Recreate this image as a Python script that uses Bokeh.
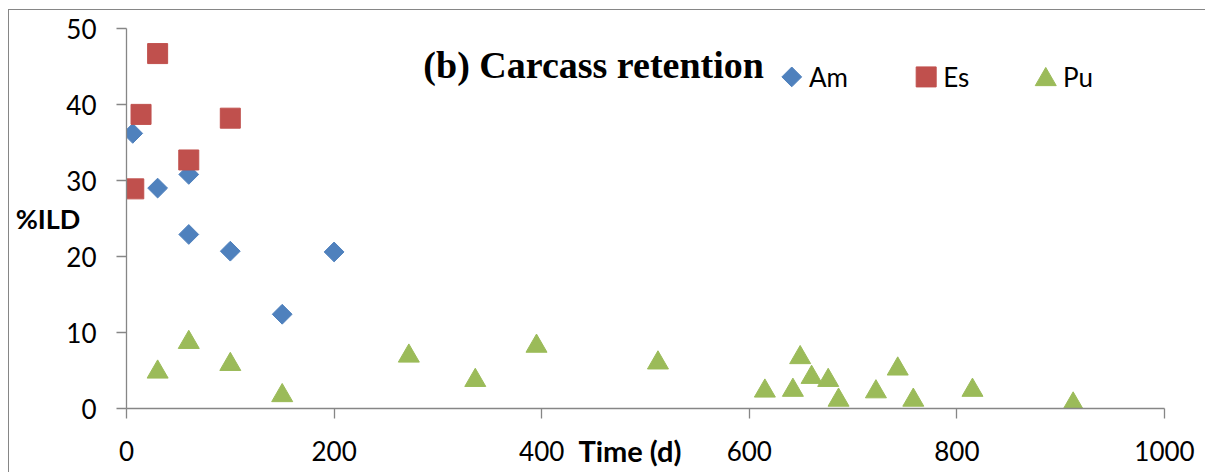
import math
from bokeh.plotting import figure
from bokeh.models import Range1d, FixedTicker, Label, LinearAxis
from bokeh.embed import file_html
from bokeh.resources import INLINE

# ---- data ----
am_x = [6, 30, 60, 60, 100, 150, 200]
am_y = [36.2, 29.0, 30.8, 22.9, 20.7, 12.4, 20.6]
es_x = [7, 14, 30, 60, 100]
es_y = [28.9, 38.7, 46.7, 32.7, 38.2]
pu_x = [30, 60, 100, 150, 272, 336, 395, 512, 615, 642, 649, 660, 676, 686, 722, 743, 758, 815, 912]
pu_y = [4.8, 8.7, 5.8, 1.7, 6.9, 3.7, 8.2, 6.0, 2.3, 2.4, 6.7, 4.1, 3.7, 1.1, 2.2, 5.2, 1.1, 2.4, 0.6]
x_ticks = [0, 200, 400, 600, 800, 1000]
y_ticks = [0, 10, 20, 30, 40, 50]
series_names = ["Am", "Es", "Pu"]
title_text = "(b) Carcass retention"
x_label = "Time (d)"
x_label_at = 485
y_label = "%ILD"

BLUE = "#4F81BD"
RED = "#C0504D"
GREEN = "#9BBB59"
GREY = "#868686"

p = figure(width=1197, height=463,
           x_range=Range1d(0, 1000), y_range=Range1d(0, 50),
           output_backend="svg", toolbar_location=None,
           min_border_left=117, min_border_right=42,
           min_border_top=18, min_border_bottom=65)
p.styles = {"margin-left": "8px", "margin-top": "9px",
            "border-left": "1px solid " + GREY, "border-top": "1px solid " + GREY}
p.outline_line_color = None
p.xgrid.visible = False
p.ygrid.visible = False
p.background_fill_color = "white"

# axes
p.xaxis.ticker = FixedTicker(ticks=x_ticks)
p.yaxis.ticker = FixedTicker(ticks=y_ticks)
for ax in (p.xaxis, p.yaxis):
    ax.axis_line_color = GREY
    ax.axis_line_width = 1.3
    ax.major_tick_line_color = GREY
    ax.major_tick_line_width = 1.3
    ax.major_tick_out = 10
    ax.major_tick_in = 0
    ax.minor_tick_line_color = None
    ax.major_label_text_font = "Lato"
    ax.major_label_text_font_size = "26px"
    ax.major_label_text_color = "black"
p.xaxis.major_label_standoff = 22
p.yaxis.major_label_standoff = 20

# y axis title, horizontal, to the left of the tick labels
p.yaxis.axis_label = y_label
p.yaxis.axis_label_orientation = "horizontal"
p.yaxis.axis_label_standoff = -17
p.yaxis.axis_label_text_font = "Lato"
p.yaxis.axis_label_text_font_style = "bold"
p.yaxis.axis_label_text_font_size = "27px"
p.yaxis.axis_label_text_color = "black"

# x axis title: the single label of an otherwise invisible second axis,
# so that it sits where the reference puts it (left of the plot centre)
xt = LinearAxis(ticker=FixedTicker(ticks=[x_label_at]),
                major_label_overrides={x_label_at: x_label},
                axis_line_color=None, major_tick_line_color=None,
                minor_tick_line_color=None, major_tick_out=0, major_tick_in=0,
                major_label_standoff=-31, major_label_text_font="Lato",
                major_label_text_font_style="bold",
                major_label_text_font_size="29px",
                major_label_text_color="black")
p.add_layout(xt, "below")

# series
p.scatter(am_x, am_y, marker="square", angle=math.pi / 4, size=14,
          fill_color=BLUE, line_color=BLUE)
p.scatter(es_x, es_y, marker="square", size=20, fill_color=RED, line_color=RED)
p.scatter(pu_x, pu_y, marker="triangle", size=21, fill_color=GREEN, line_color=GREEN)

# manual legend (keys drawn as markers, labels as text)
leg_x = [640.9, 770.4, 885.6]
leg_y = 43.63
p.scatter([leg_x[0]], [leg_y], marker="square", angle=math.pi / 4, size=14,
          fill_color=BLUE, line_color=BLUE)
p.scatter([leg_x[1]], [leg_y], marker="square", size=20, fill_color=RED, line_color=RED)
p.scatter([leg_x[2]], [leg_y - 0.35], marker="triangle", size=21,
          fill_color=GREEN, line_color=GREEN)
for lx, name in zip(leg_x, series_names):
    p.add_layout(Label(x=lx + 16.5, y=43.66, text=name, text_font="Lato",
                       text_font_size="26px", text_color="black",
                       text_baseline="middle", text_align="left"))

# title
p.add_layout(Label(x=286, y=45.17, text=title_text, text_font="Liberation Serif",
                   text_font_style="bold", text_font_size="38px", text_color="black",
                   text_baseline="middle", text_align="left"))

open("out.html", "w").write(file_html(p, INLINE))
